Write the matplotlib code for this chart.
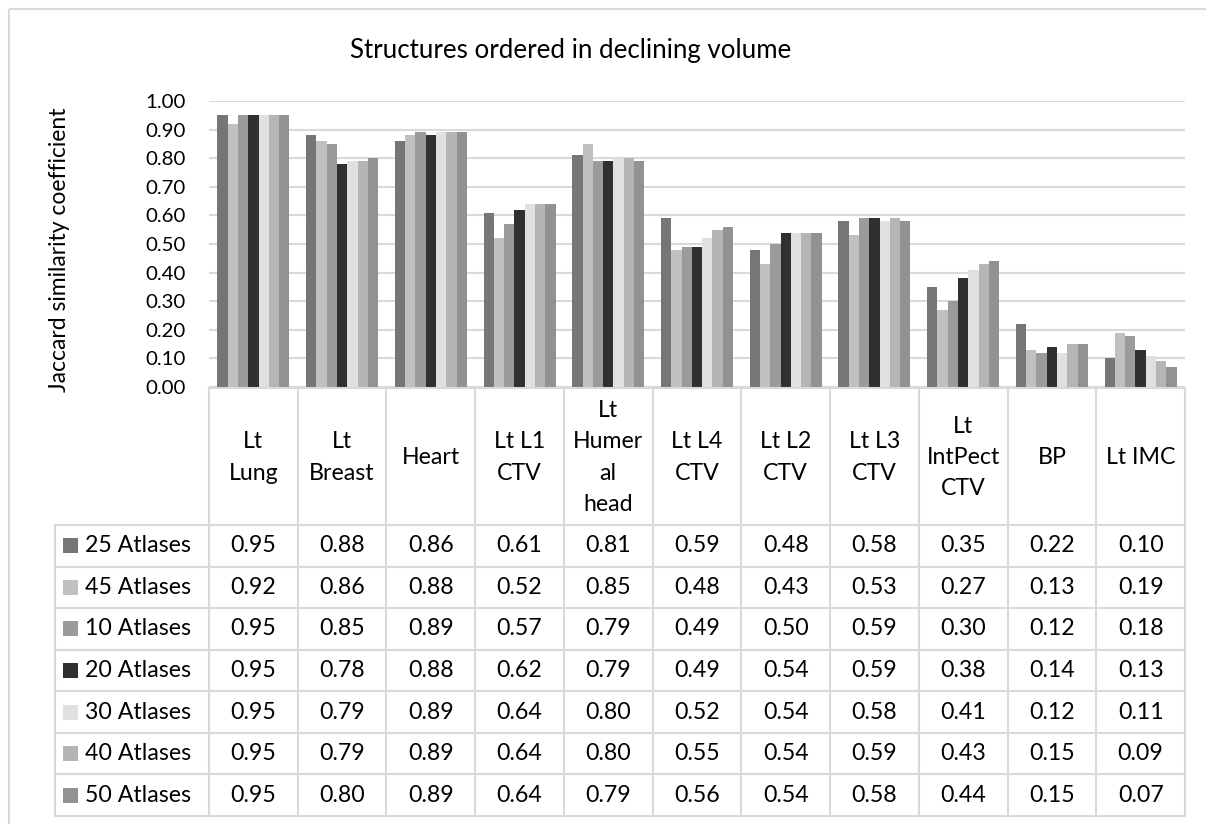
import matplotlib
matplotlib.use("Agg")
import matplotlib.pyplot as plt
from matplotlib.patches import Rectangle

plt.rcParams['font.family'] = ['Lato', 'DejaVu Sans']

categories = ["Lt\nLung", "Lt\nBreast", "Heart", "Lt L1\nCTV", "Lt\nHumer\nal\nhead",
              "Lt L4\nCTV", "Lt L2\nCTV", "Lt L3\nCTV", "Lt\nIntPect\nCTV", "BP", "Lt IMC"]
series_names = ["25 Atlases", "45 Atlases", "10 Atlases", "20 Atlases",
                "30 Atlases", "40 Atlases", "50 Atlases"]
atlas25 = [0.95, 0.88, 0.86, 0.61, 0.81, 0.59, 0.48, 0.58, 0.35, 0.22, 0.10]
atlas45 = [0.92, 0.86, 0.88, 0.52, 0.85, 0.48, 0.43, 0.53, 0.27, 0.13, 0.19]
atlas10 = [0.95, 0.85, 0.89, 0.57, 0.79, 0.49, 0.50, 0.59, 0.30, 0.12, 0.18]
atlas20 = [0.95, 0.78, 0.88, 0.62, 0.79, 0.49, 0.54, 0.59, 0.38, 0.14, 0.13]
atlas30 = [0.95, 0.79, 0.89, 0.64, 0.80, 0.52, 0.54, 0.58, 0.41, 0.12, 0.11]
atlas40 = [0.95, 0.79, 0.89, 0.64, 0.80, 0.55, 0.54, 0.59, 0.43, 0.15, 0.09]
atlas50 = [0.95, 0.80, 0.89, 0.64, 0.79, 0.56, 0.54, 0.58, 0.44, 0.15, 0.07]
series = [atlas25, atlas45, atlas10, atlas20, atlas30, atlas40, atlas50]
colors = ["#767676", "#c0c0c0", "#9b9b9b", "#303030", "#e0e0e0", "#b5b5b5", "#929292"]
yticks = [0.0, 0.1, 0.2, 0.3, 0.4, 0.5, 0.6, 0.7, 0.8, 0.9, 1.0]

W, H = 1206, 824
fig = plt.figure(figsize=(W / 100, H / 100), dpi=100)

# pixel layout
ax_l, ax_r, ax_t, ax_b = 209, 1185, 101, 387
ax = fig.add_axes([ax_l / W, 1 - ax_b / H, (ax_r - ax_l) / W, (ax_b - ax_t) / H])
n = len(categories)
bw = 0.116
for i, (vals, c) in enumerate(zip(series, colors)):
    xs = [k + (i - 3) * bw for k in range(n)]
    ax.bar(xs, vals, width=bw, color=c, zorder=3, linewidth=0)
ax.set_xlim(-0.5, n - 0.5)
ax.set_ylim(0, 1.0)
ax.set_yticks(yticks)
ax.set_yticklabels([f"{v:.2f}" for v in yticks], fontsize=14.7)
ax.tick_params(axis='y', length=0, pad=17)
ax.set_xticks([])
ax.grid(axis='y', color='#d9d9d9', linewidth=1.5, zorder=0)
for s in ax.spines.values():
    s.set_visible(False)

# overlay for table, title, labels in pixel coords
ov = fig.add_axes([0, 0, 1, 1], zorder=-1)
ov.set_xlim(0, W)
ov.set_ylim(H, 0)
ov.axis('off')
ov2 = fig.add_axes([0, 0, 1, 1], zorder=5)
ov2.set_xlim(0, W)
ov2.set_ylim(H, 0)
ov2.axis('off')
ov2.patch.set_alpha(0)

lc = '#d9d9d9'
lw = 1.5
# outer frame
ov.add_patch(Rectangle((9, 9), 1220, 900, fill=False, edgecolor=lc, linewidth=1.5))

ov.text(571, 50, "Structures ordered in declining volume", ha='center', va='center', fontsize=18.6)
ov.text(60, 250, "Jaccard similarity coefficient", ha='center', va='center', rotation=90, fontsize=16.5)

cw = (ax_r - ax_l) / n
hdr_t, hdr_b = 388, 525
row_h = (816 - hdr_b) / 7
tbl_l = 55
# header
ov2.plot([ax_l, ax_r], [hdr_t, hdr_t], color=lc, lw=lw)
for k in range(n + 1):
    ov2.plot([ax_l + k * cw] * 2, [hdr_t, 816], color=lc, lw=lw)
ov2.plot([tbl_l, tbl_l], [hdr_b, 816], color=lc, lw=lw)
for r in range(8):
    y = hdr_b + r * row_h
    ov2.plot([tbl_l, ax_r], [y, y], color=lc, lw=lw)
for k, cat in enumerate(categories):
    ov2.text(ax_l + (k + 0.5) * cw, (hdr_t + hdr_b) / 2 + 1, cat, ha='center', va='center',
             fontsize=16.7, linespacing=1.6)
for r, (name, vals, c) in enumerate(zip(series_names, series, colors)):
    yc = hdr_b + (r + 0.5) * row_h
    ov2.add_patch(Rectangle((63, yc - 7.5), 15, 15, color=c, linewidth=0))
    ov2.text(85, yc, name, ha='left', va='center', fontsize=16.7)
    for k, v in enumerate(vals):
        ov2.text(ax_l + (k + 0.5) * cw, yc, f"{v:.2f}", ha='center', va='center', fontsize=16.7)

fig.savefig("out.png", dpi=100, facecolor='white')
